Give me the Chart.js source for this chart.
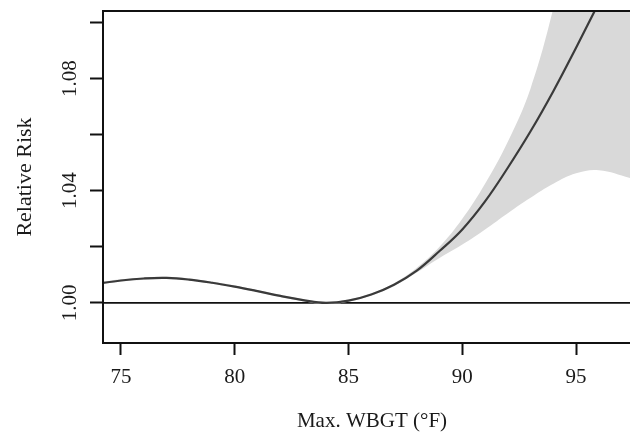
<!DOCTYPE html>
<html>
<head>
<meta charset="utf-8">
<script src="https://cdn.jsdelivr.net/npm/chart.js@4.4.1/dist/chart.umd.min.js"></script>
<style>
  html, body { margin: 0; padding: 0; background: #fff; }
  #wrap { width: 630px; height: 434px; }
</style>
</head>
<body>
<div id="wrap"><canvas id="rrChart" width="630" height="434"></canvas></div>
<script>
// Max. WBGT (°F) vs relative risk
const wbgt   = [74.2, 75, 76, 77, 78, 79, 80, 81, 82, 83, 84, 85, 86, 87, 88, 89, 90, 91, 92, 93, 94, 95, 96, 97.4];
const rr     = [1.0071, 1.0080, 1.0087, 1.0089, 1.0083, 1.0072, 1.0058, 1.0042, 1.0025, 1.0010, 1.0000, 1.0008,
                1.0030, 1.0065, 1.0115, 1.0185, 1.0262, 1.0362, 1.0482, 1.0612, 1.0755, 1.0910, 1.1070, 1.1290];
const rrHigh = [1.0075, 1.0084, 1.0091, 1.0093, 1.0087, 1.0076, 1.0062, 1.0046, 1.0029, 1.0014, 1.0004, 1.0012,
                1.0034, 1.0070, 1.0125, 1.0200, 1.0300, 1.0425, 1.0575, 1.0765, 1.1050, 1.1400, 1.1800, 1.2400];
const rrLow  = [1.0067, 1.0076, 1.0083, 1.0085, 1.0079, 1.0068, 1.0054, 1.0038, 1.0021, 1.0006, 0.9996, 1.0004,
                1.0026, 1.0060, 1.0108, 1.0160, 1.0208, 1.0262, 1.0320, 1.0375, 1.0425, 1.0462, 1.0473, 1.0445];

const xTicks = [75, 80, 85, 90, 95];
const yTicks = [1.00, 1.02, 1.04, 1.06, 1.08, 1.10];
const yLabels = ['1.00', '', '1.04', '', '1.08', ''];

const SERIF = "'Liberation Serif', 'DejaVu Serif', serif";

function pts(ys) {
    return wbgt.map((x, i) => ({ x: x, y: ys[i] }));
}

// frame, reference line and the text R puts outside the axes
const rPlot = {
    id: 'rPlot',
    beforeDatasetsDraw(chart) {
        const { ctx, chartArea: a, scales: { y } } = chart;
        const y1 = y.getPixelForValue(1);
        ctx.save();
        ctx.strokeStyle = '#111';
        ctx.lineWidth = 1.6;
        ctx.beginPath();
        ctx.moveTo(a.left, y1);
        ctx.lineTo(a.right, y1);
        ctx.stroke();
        ctx.restore();
    },
    afterDraw(chart) {
        const { ctx, chartArea: a, scales: { y } } = chart;
        ctx.save();
        ctx.strokeStyle = '#111';
        ctx.lineWidth = 2;
        ctx.beginPath();
        ctx.moveTo(a.right, a.top);
        ctx.lineTo(a.left, a.top);
        ctx.lineTo(a.left, a.bottom);
        ctx.lineTo(a.right, a.bottom);
        ctx.stroke();

        ctx.fillStyle = '#1a1a1a';
        ctx.font = '21px ' + SERIF;
        ctx.textAlign = 'center';
        ctx.textBaseline = 'middle';
        yTicks.forEach((v, i) => {
            if (!yLabels[i]) return;
            ctx.save();
            ctx.translate(70, y.getPixelForValue(v));
            ctx.rotate(-Math.PI / 2);
            ctx.fillText(yLabels[i], 0, 0);
            ctx.restore();
        });

        ctx.font = '22px ' + SERIF;
        ctx.save();
        ctx.translate(25, (a.top + a.bottom) / 2);
        ctx.rotate(-Math.PI / 2);
        ctx.fillText('Relative Risk', 0, 0);
        ctx.restore();

        ctx.font = '21px ' + SERIF;
        ctx.fillText('Max. WBGT (°F)', 372, 421);
        ctx.restore();
    }
};

new Chart(document.getElementById('rrChart'), {
    type: 'line',
    data: {
        datasets: [
            {
                // estimate, drawn last so it sits on top of the band
                data: pts(rr),
                borderColor: '#3a3a3a',
                borderWidth: 2.2,
                pointRadius: 0,
                fill: false,
                tension: 0.4
            },
            {
                data: pts(rrHigh),
                borderWidth: 0,
                pointRadius: 0,
                backgroundColor: '#d9d9d9',
                fill: '+1',
                tension: 0.4
            },
            {
                data: pts(rrLow),
                borderWidth: 0,
                pointRadius: 0,
                fill: false,
                tension: 0.4
            }
        ]
    },
    options: {
        responsive: false,
        animation: false,
        devicePixelRatio: 1,
        layout: { padding: { top: 11, right: 0, left: 0, bottom: 0 } },
        plugins: { legend: { display: false }, tooltip: { enabled: false } },
        scales: {
            x: {
                type: 'linear',
                min: 74.21,
                max: 97.37,
                afterFit: s => { s.height = 91; },
                afterBuildTicks: s => { s.ticks = xTicks.map(v => ({ value: v })); },
                ticks: {
                    includeBounds: false,
                    color: '#1a1a1a',
                    font: { family: SERIF, size: 21 },
                    padding: 10,
                    maxRotation: 0,
                    autoSkip: false
                },
                grid: { drawOnChartArea: false, drawTicks: true, tickLength: 12, tickWidth: 2, tickColor: '#111' },
                border: { display: false }
            },
            y: {
                min: 0.9857,
                max: 1.1041,
                afterFit: s => { s.width = 103; },
                afterBuildTicks: s => { s.ticks = yTicks.map(v => ({ value: v })); },
                ticks: { callback: () => '', padding: 0 },
                grid: { drawOnChartArea: false, drawTicks: true, tickLength: 13, tickWidth: 2, tickColor: '#111' },
                border: { display: false }
            }
        }
    },
    plugins: [rPlot]
});
</script>
</body>
</html>
